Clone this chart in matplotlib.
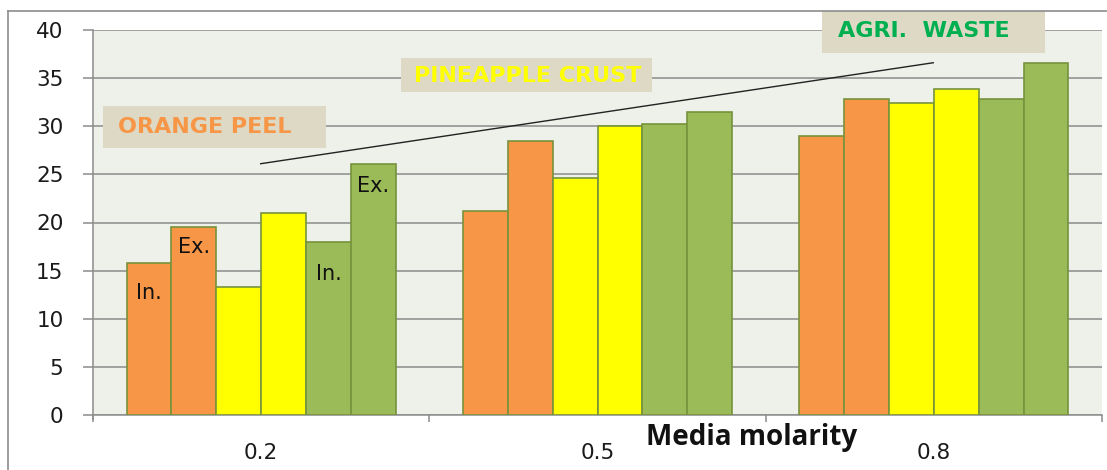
import matplotlib
matplotlib.use("Agg")
import matplotlib.pyplot as plt
from matplotlib.patches import Rectangle
from matplotlib.lines import Line2D
import numpy as np

# Media molarity groups
molarity = ["0.2", "0.5", "0.8"]

# Values for each substrate: intracellular (In.) and extracellular (Ex.)
orange_in = [15.8, 21.2, 29.0]
orange_ex = [19.5, 28.5, 32.8]
pineapple_in = [13.3, 24.6, 32.4]
pineapple_ex = [21.0, 30.0, 33.9]
agri_in = [18.0, 30.2, 32.8]
agri_ex = [26.1, 31.5, 36.6]

yticks = [0, 5, 10, 15, 20, 25, 30, 35, 40]

series = [orange_in, orange_ex, pineapple_in, pineapple_ex, agri_in, agri_ex]
colors = ["#F79646", "#F79646", "#FFFF00", "#FFFF00", "#9BBB59", "#9BBB59"]
edge = "#77933C"

fig = plt.figure(figsize=(11.07, 4.70), dpi=100)
fig.patch.set_facecolor("white")
ax = fig.add_axes([93 / 1107, 1 - 415 / 470, 1009 / 1107, 385 / 470])
ax.set_facecolor("#EEF1E9")

x = np.arange(len(molarity))
w = 0.8 / len(series)
for i, (vals, c) in enumerate(zip(series, colors)):
    ax.bar(x + (i - 2.5) * w, vals, width=w, color=c, edgecolor=edge,
           linewidth=1.2, zorder=3)

ax.set_xlim(-0.5, 2.5)
ax.set_ylim(0, 40)

# grid
ax.set_yticks(yticks)
ax.yaxis.grid(True, color="#8C8C8C", linewidth=1.1, zorder=0)
ax.set_axisbelow(True)

for s in ["top", "right"]:
    ax.spines[s].set_visible(False)
ax.spines["left"].set_color("#8C8C8C")
ax.spines["bottom"].set_color("#8C8C8C")
ax.spines["left"].set_linewidth(1.1)
ax.spines["bottom"].set_linewidth(1.1)
ax.spines["left"].set_bounds(-0.45, 40)

ax.tick_params(axis="y", direction="out", length=7.2, width=1.1, color="#8C8C8C",
               pad=14, labelsize=15.5, labelcolor="#1a1a1a")

# category boundaries as major ticks, labels at centres
ax.set_xticks([-0.5, 0.5, 1.5, 2.5])
ax.set_xticklabels([])
ax.tick_params(axis="x", which="major", direction="out", length=5, width=1.1,
               color="#8C8C8C")
ax.set_xticks(x, minor=True)
ax.set_xticklabels(molarity, minor=True)
ax.tick_params(axis="x", which="minor", length=0, pad=20, labelsize=15.5,
               labelcolor="#1a1a1a")

# axis title
fig.text(752 / 1107, 1 - 438 / 470, "Media molarity", ha="center", va="center",
         fontsize=20, fontweight="bold", family="Open Sans", color="#111111")

# In./Ex. labels inside first group bars
label_kw = dict(ha="center", va="center", fontsize=15, color="#111111", zorder=5)
ax.annotate("In.", (x[0] - 2.5 * w, orange_in[0]), xytext=(0, -22),
            textcoords="offset points", **label_kw)
ax.annotate("Ex.", (x[0] - 1.5 * w, orange_ex[0]), xytext=(0, -14),
            textcoords="offset points", **label_kw)
ax.annotate("In.", (x[0] + 1.5 * w, agri_in[0]), xytext=(0, -23),
            textcoords="offset points", **label_kw)
ax.annotate("Ex.", (x[0] + 2.5 * w, agri_ex[0]), xytext=(0, -16),
            textcoords="offset points", **label_kw)

# substrate name boxes
boxes = [
    ("ORANGE PEEL", (0.0099, 0.6943, 0.2207, 0.1083), (0.1105, 0.749), "#F79646"),
    ("PINEAPPLE CRUST", (0.305, 0.839, 0.2487, 0.0883), (0.4305, 0.881), "#FFFF00"),
    ("AGRI.  WASTE", (0.7225, 0.941, 0.221, 0.1084), (0.8236, 0.998), "#00B050"),
]
for txt, (bx, by, bw, bh), (tx, ty), tc in boxes:
    ax.add_patch(Rectangle((bx, by), bw, bh, transform=ax.transAxes,
                           facecolor="#DDD9C4", edgecolor="none", zorder=4,
                           clip_on=False))
    ax.text(tx, ty, txt, transform=ax.transAxes, ha="center", va="center",
            fontsize=16, fontweight="bold", family="DejaVu Sans", color=tc,
            zorder=5, clip_on=False)

# trend line
ax.add_line(Line2D([0.1662, 0.8328], [0.6527, 0.915], transform=ax.transAxes,
                   color="#222222", linewidth=1.0, zorder=5))

# outer chart frame
fig.add_artist(Line2D([8 / 1107, 8 / 1107], [0, 1 - 11 / 470],
                      transform=fig.transFigure, color="#8C8C8C", linewidth=1.2))
fig.add_artist(Line2D([8 / 1107, 1], [1 - 11 / 470, 1 - 11 / 470],
                      transform=fig.transFigure, color="#8C8C8C", linewidth=1.2))

fig.savefig("out.png", dpi=100)
